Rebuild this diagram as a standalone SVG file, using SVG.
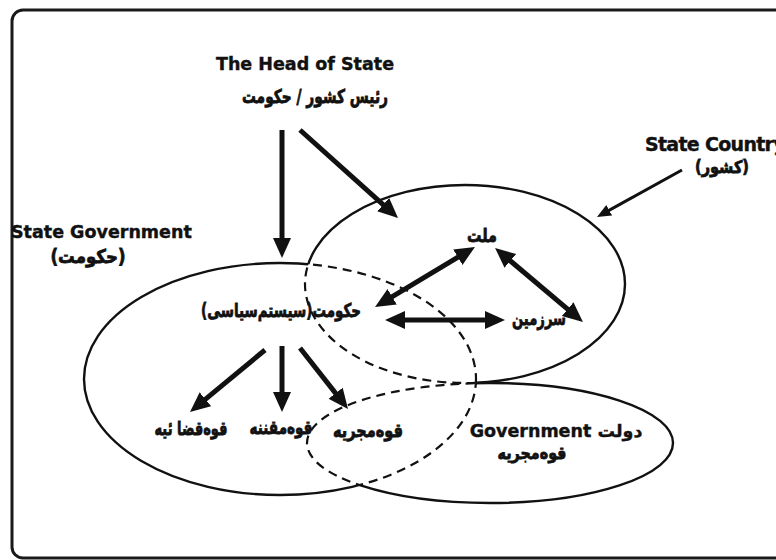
<svg xmlns="http://www.w3.org/2000/svg" width="776" height="560" viewBox="0 0 776 560">
  <style>
    .lbl { font-family: "DejaVu Sans", "Liberation Sans", sans-serif; font-weight: bold; fill: #111; }
    .en { font-size: 17.5px; stroke: #111; stroke-width: 0.4; }
    .fa { font-size: 19px; direction: rtl; unicode-bidi: embed; stroke: #111; stroke-width: 0.8; }
    .fa-sm { font-size: 17.5px; }
    .ring { fill: none; stroke: #111; stroke-width: 2.4; }
    .dash { fill: none; stroke: #111; stroke-width: 2.2; stroke-dasharray: 9 6; }
    .arrow { fill: none; stroke: #111; stroke-width: 5; }
    .thin { fill: none; stroke: #111; stroke-width: 3; }
  </style>
  <defs>
    <marker id="head" markerUnits="userSpaceOnUse" markerWidth="22" markerHeight="20" refX="10" refY="9" orient="auto-start-reverse">
      <path d="M0,0 L20,9 L0,18 z" fill="#111"/>
    </marker>
    <marker id="headSmall" markerUnits="userSpaceOnUse" markerWidth="16" markerHeight="14" refX="7" refY="6" orient="auto">
      <path d="M0,0 L14,6 L0,12 z" fill="#111"/>
    </marker>
    <!-- the three regions -->
    <ellipse id="govArea" cx="280" cy="379" rx="196" ry="116"/>
    <ellipse id="countryArea" cx="465" cy="284" rx="160" ry="99"/>
    <ellipse id="execArea" cx="490" cy="443" rx="183" ry="60"/>
    <clipPath id="inGov"><use href="#govArea"/></clipPath>
    <clipPath id="inOthers"><use href="#countryArea"/><use href="#execArea"/></clipPath>
    <mask id="outGov" maskUnits="userSpaceOnUse" x="0" y="0" width="776" height="560">
      <rect width="776" height="560" fill="#fff"/>
      <ellipse cx="280" cy="379" rx="196" ry="116" fill="#000"/>
    </mask>
    <mask id="outOthers" maskUnits="userSpaceOnUse" x="0" y="0" width="776" height="560">
      <rect width="776" height="560" fill="#fff"/>
      <ellipse cx="465" cy="284" rx="160" ry="99" fill="#000"/>
      <ellipse cx="490" cy="443" rx="183" ry="60" fill="#000"/>
    </mask>
  </defs>

  <rect width="776" height="560" fill="#fff"/>
  <!-- frame: right side runs past the canvas edge -->
  <rect x="12" y="10" width="900" height="548" rx="11" fill="none" stroke="#1a1a1a" stroke-width="3"/>

  <!-- regions: solid where alone, dashed where overlapping -->
  <g id="state-government">
    <ellipse class="ring" cx="280" cy="379" rx="196" ry="116" mask="url(#outOthers)"/>
    <ellipse class="dash" cx="280" cy="379" rx="196" ry="116" clip-path="url(#inOthers)"/>
    <text class="lbl en" x="11" y="238">State Government</text>
    <text class="lbl fa" x="88" y="263" text-anchor="middle" textLength="75" lengthAdjust="spacingAndGlyphs">(حکومت)</text>
  </g>
  <g id="state-country">
    <ellipse class="ring" cx="465" cy="284" rx="160" ry="99" mask="url(#outGov)"/>
    <ellipse class="dash" cx="465" cy="284" rx="160" ry="99" clip-path="url(#inGov)"/>
    <text class="lbl en" x="645" y="151" style="font-size:19px" letter-spacing="-0.7">State Country</text>
    <text class="lbl fa fa-sm" x="722" y="173" text-anchor="middle" textLength="54" lengthAdjust="spacingAndGlyphs">(کشور)</text>
  </g>
  <g id="government">
    <ellipse class="ring" cx="490" cy="443" rx="183" ry="60" mask="url(#outGov)"/>
    <ellipse class="dash" cx="490" cy="443" rx="183" ry="60" clip-path="url(#inGov)"/>
    <text class="lbl en" x="556" y="437" text-anchor="middle">Government دولت</text>
    <text class="lbl fa fa-sm" x="532" y="459" text-anchor="middle" textLength="69" lengthAdjust="spacingAndGlyphs">قوه‌مجریه</text>
  </g>

  <g id="head-of-state">
    <text class="lbl en" x="305" y="70" text-anchor="middle">The Head of State</text>
    <text class="lbl fa" x="315" y="103" text-anchor="middle" textLength="146" lengthAdjust="spacingAndGlyphs">رئیس کشور / حکومت</text>
  </g>
  <g id="nation">
    <text class="lbl fa" x="482" y="242" text-anchor="middle" textLength="30" lengthAdjust="spacingAndGlyphs">ملت</text>
  </g>
  <g id="territory">
    <text class="lbl fa" x="539" y="325" text-anchor="middle" textLength="54" lengthAdjust="spacingAndGlyphs">سرزمین</text>
  </g>
  <g id="political-system">
    <text class="lbl fa" x="281" y="317" text-anchor="middle" textLength="160" lengthAdjust="spacingAndGlyphs">حکومت(سیستم‌سیاسی)</text>
  </g>
  <g id="judiciary">
    <text class="lbl fa" x="191" y="435" text-anchor="middle" textLength="73" lengthAdjust="spacingAndGlyphs">قوه‌قضا ئیه</text>
  </g>
  <g id="legislature">
    <text class="lbl fa" x="281" y="434" text-anchor="middle" textLength="63" lengthAdjust="spacingAndGlyphs">قوه‌مقننه</text>
  </g>
  <g id="executive">
    <text class="lbl fa" x="368" y="437" text-anchor="middle" textLength="70" lengthAdjust="spacingAndGlyphs">قوه‌مجریه</text>
  </g>

  <g id="connectors">
    <line class="arrow" x1="282" y1="130" x2="282" y2="248" marker-end="url(#head)"/>
    <line class="arrow" x1="300" y1="130" x2="390.6" y2="211.3" marker-end="url(#head)"/>
    <line class="thin" x1="682" y1="170" x2="603.1" y2="213.6" marker-end="url(#headSmall)"/>
    <line class="arrow" x1="466.4" y1="252.1" x2="383.6" y2="301.9" marker-start="url(#head)" marker-end="url(#head)"/>
    <line class="arrow" x1="502.7" y1="254.4" x2="575.3" y2="315.6" marker-start="url(#head)" marker-end="url(#head)"/>
    <line class="arrow" x1="395" y1="320" x2="495" y2="320" marker-start="url(#head)" marker-end="url(#head)"/>
    <line class="arrow" x1="265" y1="350" x2="197.7" y2="405.6" marker-end="url(#head)"/>
    <line class="arrow" x1="282" y1="346" x2="282" y2="402" marker-end="url(#head)"/>
    <line class="arrow" x1="300" y1="348" x2="341.8" y2="401.1" marker-end="url(#head)"/>
  </g>
</svg>
